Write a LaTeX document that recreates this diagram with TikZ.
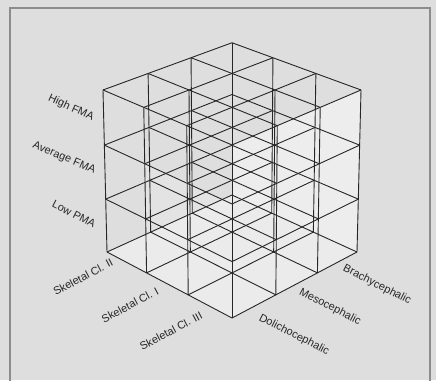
\documentclass[tikz,border=0pt]{standalone}
\usepackage{fontspec}
\setmainfont{Liberation Sans}
\usetikzlibrary{positioning}
\definecolor{paper}{HTML}{DEDEDE}
\definecolor{frame}{HTML}{8C8C8C}
\definecolor{ink}{HTML}{262626}

\begin{document}
\begin{tikzpicture}[x=1pt, y=-1pt,
    grid/.style={draw=ink, line width=0.9pt},
    lbl/.style={font=\fontsize{11}{13}\selectfont, inner sep=0pt, text=ink}]
    \fill[paper] (0,0) rectangle (436,380);
    \useasboundingbox (0,0) rectangle (436,380);
    \draw[frame, line width=1.1pt] (10,381) -- (10,8) -- (430,8) -- (430,381);

    % lattice points p<u><v><h>, u to the left, v to the right, h upwards
    \foreach \u in {0,...,3}
      \foreach \v in {0,...,3}
        \foreach \h in {0,...,3} {
          \pgfmathsetmacro\den{1+0.02643*(\u+\v)-0.01117*\h}
          \coordinate (p\u\v\h) at ({232+44.97*(\v-\u)/\den},{(318-15.34*(\u+\v)-59.29*\h)/\den});
        }

    % shading of the faces
    \fill[gray!14] (p030) -- (p033) -- (p003) -- (p000) -- cycle;
    \fill[gray!26] (p300) -- (p303) -- (p003) -- (p000) -- cycle;
    \fill[gray!22] (p200) -- (p202) -- (p002) -- (p000) -- cycle;
    \fill[gray!16] (p000) -- (p300) -- (p330) -- (p030) -- cycle;

    \foreach \a in {0,...,3}
      \foreach \b in {0,...,3} {
        \draw[grid] (p0\a\b) -- (p3\a\b);
        \draw[grid] (p\a0\b) -- (p\a3\b);
        \draw[grid] (p\a\b0) -- (p\a\b3);
      }

    \node (high) [lbl, rotate=-25] at (71,108) {High FMA};
    \node (avg)  [lbl, rotate=-23] at (64,158) {Average FMA};
    \node (low)  [lbl, rotate=-27] at (74,214) {Low PMA};
    \node (cl2)  [lbl, rotate=28] at (83,277) {Skeletal Cl. II};
    \node (cl1)  [lbl, rotate=28] at (130,305) {Skeletal Cl. I};
    \node (cl3)  [lbl, rotate=28] at (171,331) {Skeletal Cl. III};
    \node (brach)[lbl, rotate=-27] at (377,285) {Brachycephalic};
    \node (meso) [lbl, rotate=-27] at (330,307) {Mesocephalic};
    \node (doli) [lbl, rotate=-27] at (294,335) {Dolichocephalic};
  \end{tikzpicture}
\end{document}
